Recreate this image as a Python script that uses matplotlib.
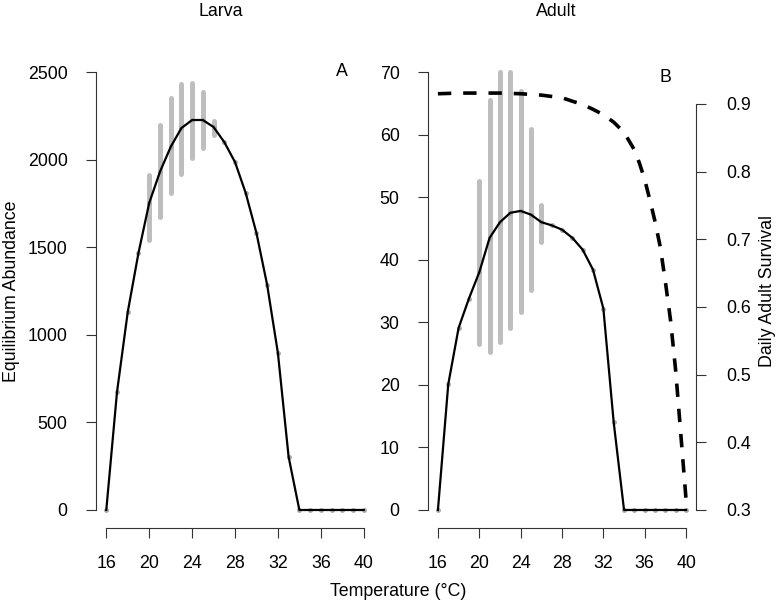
import numpy as np
import matplotlib.pyplot as plt

plt.rcParams['font.family'] = ['Liberation Sans', 'DejaVu Sans']

# model output at each temperature
temps = [16, 17, 18, 19, 20, 21, 22, 23, 24, 25, 26, 27, 28,
         29, 30, 31, 32, 33, 34, 35, 36, 37, 38, 39, 40]
larva = [0, 674, 1130, 1467, 1752, 1930, 2072, 2180, 2226, 2226, 2186, 2100, 1986,
         1809, 1581, 1284, 896, 303, 0, 0, 0, 0, 0, 0, 0]
adult = [0, 20.1, 29.1, 33.8, 38.0, 43.5, 46.0, 47.5, 47.8, 47.2, 46.0, 45.5, 44.8,
         43.5, 41.6, 38.4, 32.2, 14.0, 0, 0, 0, 0, 0, 0, 0]

# observed ranges
obs_temps = [20, 21, 22, 23, 24, 25, 26]
larva_lo = [1540, 1670, 1810, 1920, 2010, 2065, 2140]
larva_hi = [1910, 2195, 2350, 2430, 2435, 2385, 2220]
adult_lo = [26.5, 25.3, 26.8, 29.1, 31.6, 35.2, 42.8]
adult_hi = [52.6, 65.5, 70.0, 70.0, 67.0, 60.9, 48.7]

# daily adult survival
surv_temps = [16, 18, 20, 22, 24, 26, 28, 30, 31, 32, 33, 34, 35, 35.5,
              36, 36.5, 37, 37.5, 38, 38.5, 39, 39.5, 40]
survival = [0.915, 0.916, 0.916, 0.916, 0.915, 0.913, 0.909, 0.899, 0.892, 0.884,
            0.873, 0.858, 0.832, 0.812, 0.788, 0.758, 0.726, 0.689, 0.637, 0.58,
            0.505, 0.41, 0.315]

W, H = 784, 607
fig = plt.figure(figsize=(W / 100, H / 100), dpi=100)

def px_axes(l, r, t, b):
    return fig.add_axes([l / W, 1 - b / H, (r - l) / W, (b - t) / H])

grey = '#bebebe'
fs = 12.8

def style(ax, xb, yb):
    for s in ['top', 'right']:
        ax.spines[s].set_visible(False)
    ax.spines['left'].set_bounds(*yb)
    ax.spines['bottom'].set_bounds(*xb)
    for s in ['left', 'bottom']:
        ax.spines[s].set_linewidth(0.8)
        ax.spines[s].set_color('#333333')
    ax.tick_params(axis='both', length=7.5, width=0.8, color='#333333', labelsize=fs)
    ax.tick_params(axis='x', pad=12.5)
    ax.tick_params(axis='y', pad=13)
    ax.set_xticks([16, 20, 24, 28, 32, 36, 40])
    ax.set_xlim(15.04, 40.96)

# Panel A: larva
axA = px_axes(96, 374, 54.5, 527.5)
axA.vlines(obs_temps, larva_lo, larva_hi, color=grey, lw=3.6, capstyle='round')
axA.plot(temps, larva, 'o', color='#aaaaaa', ms=2.5, zorder=2)
axA.plot(temps, larva, color='black', lw=1.6, zorder=3)
axA.set_ylim(-100, 2600)
axA.set_yticks([0, 500, 1000, 1500, 2000, 2500])
style(axA, (16, 40), (0, 2500))

# Panel B: adult
axB = px_axes(428, 696, 54.5, 527.5)
axB.vlines(obs_temps, adult_lo, adult_hi, color=grey, lw=3.6, capstyle='round')
axB.plot(temps, adult, 'o', color='#aaaaaa', ms=2.5, zorder=2)
axB.plot(temps, adult, color='black', lw=1.6, zorder=3)
axB.set_ylim(-2.8, 72.8)
axB.set_yticks([0, 10, 20, 30, 40, 50, 60, 70])
style(axB, (16, 40), (0, 70))

axS = axB.twinx()
axS.plot(surv_temps, survival, color='black', lw=2.6, linestyle=(0, (3.7, 3.3)),
         dash_capstyle='butt')
axS.set_ylim(0.274, 0.973)
axS.set_yticks([0.3, 0.4, 0.5, 0.6, 0.7, 0.8, 0.9])
for s in ['top', 'left', 'bottom']:
    axS.spines[s].set_visible(False)
axS.spines['right'].set_bounds(0.3, 0.9)
axS.spines['right'].set_linewidth(0.8)
axS.spines['right'].set_color('#333333')
axS.tick_params(axis='y', length=7.5, width=0.8, color='#333333', labelsize=fs, pad=14)

fig.text(12 / W, 1 - 291 / H, 'Equilibrium Abundance', fontsize=fs,
         rotation=90, ha='center', va='center')
fig.text(768 / W, 1 - 291 / H, 'Daily Adult Survival', fontsize=fs,
         rotation=90, ha='center', va='center')
fig.text(221 / W, 1 - 12 / H, 'Larva', fontsize=fs, ha='center', va='center')
fig.text(556 / W, 1 - 12 / H, 'Adult', fontsize=fs, ha='center', va='center')
fig.text(342 / W, 1 - 72 / H, 'A', fontsize=fs, ha='center', va='center')
fig.text(665 / W, 1 - 78 / H, 'B', fontsize=fs, ha='center', va='center')
fig.text(398 / W, 1 - 592 / H, 'Temperature (°C)', fontsize=fs, ha='center', va='center')

fig.savefig('out.png', dpi=100)
